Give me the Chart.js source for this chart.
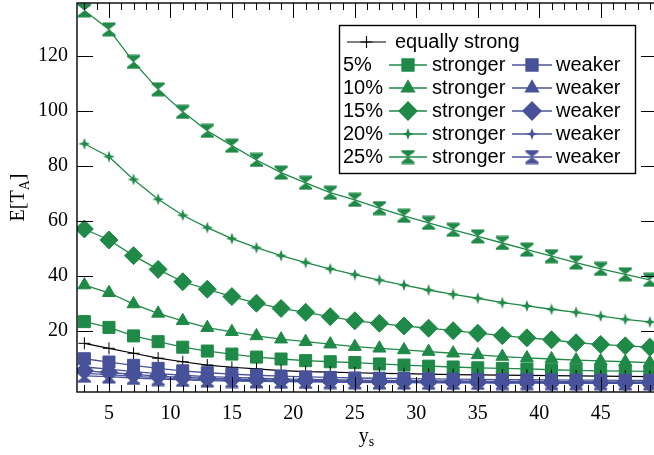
<!DOCTYPE html>
<html>
<head>
<meta charset="utf-8">
<script src="https://cdn.jsdelivr.net/npm/chart.js@4.4.1/dist/chart.umd.min.js"></script>
<style>
    html, body { margin: 0; padding: 0; background: #fff; overflow: hidden; }
    #wrap { width: 660px; height: 455px; }
</style>
</head>
<body>
<div id="wrap"><canvas id="grafico" width="660" height="455"></canvas></div>
<script>
// valores
const ys = [3, 5, 7, 9, 11, 13, 15, 17, 19, 21, 23, 25, 27, 29, 31, 33, 35, 37, 39, 41, 43, 45, 47, 49];

const equalStrong = [15.4, 13.6, 11.8, 10.0, 8.7, 7.5, 6.7, 6.1, 5.5, 5.1, 4.9, 4.7, 4.5, 4.35, 4.2, 4.05, 3.95, 3.85, 3.75, 3.65, 3.55, 3.45, 3.4, 3.3];

const stronger5  = [23.3, 21.2, 18.1, 16.0, 14.0, 12.6, 11.5, 10.4, 9.7, 9.1, 8.7, 8.4, 7.9, 7.5, 7.1, 6.8, 6.5, 6.3, 6.1, 5.8, 5.6, 5.4, 5.3, 5.2];
const stronger10 = [36.6, 33.8, 29.7, 26.3, 23.6, 21.1, 19.6, 18.1, 16.9, 16.0, 15.1, 14.2, 13.6, 13.0, 12.4, 11.8, 11.2, 10.6, 10.1, 9.7, 9.3, 9.0, 8.7, 8.4];
const stronger15 = [57.0, 53.0, 47.3, 42.3, 37.8, 35.1, 32.4, 30.0, 28.1, 26.7, 25.1, 23.6, 22.7, 21.7, 20.9, 20.0, 19.1, 18.2, 17.4, 16.7, 15.6, 15.0, 14.5, 14.0];
const stronger20 = [88.0, 83.3, 75.0, 67.8, 62.0, 57.5, 53.5, 50.2, 47.3, 44.8, 42.5, 40.4, 38.4, 36.6, 34.8, 33.2, 31.8, 30.2, 29.0, 27.8, 26.7, 25.3, 24.1, 23.2];
const stronger25 = [136.5, 129.6, 117.8, 107.8, 99.6, 92.7, 87.3, 82.1, 77.5, 73.8, 70.2, 67.6, 64.6, 61.8, 59.2, 56.7, 54.3, 51.9, 49.5, 47.1, 44.8, 42.5, 40.5, 38.5];

const weaker5  = [9.8, 8.6, 7.4, 6.3, 5.4, 4.7, 4.2, 3.8, 3.5, 3.2, 3.0, 2.8, 2.7, 2.6, 2.5, 2.4, 2.3, 2.2, 2.15, 2.1, 2.05, 2.0, 1.95, 1.9];
const weaker10 = [6.8, 6.0, 5.1, 4.4, 3.8, 3.3, 3.0, 2.7, 2.5, 2.3, 2.15, 2.0, 1.9, 1.8, 1.75, 1.7, 1.65, 1.6, 1.55, 1.5, 1.45, 1.4, 1.38, 1.35];
const weaker15 = [5.4, 4.8, 4.1, 3.5, 3.0, 2.7, 2.4, 2.2, 2.0, 1.9, 1.75, 1.65, 1.55, 1.5, 1.45, 1.4, 1.35, 1.3, 1.25, 1.22, 1.2, 1.17, 1.14, 1.1];
const weaker20 = [4.5, 4.0, 3.4, 2.9, 2.5, 2.2, 2.0, 1.85, 1.7, 1.6, 1.5, 1.4, 1.33, 1.28, 1.23, 1.19, 1.15, 1.11, 1.08, 1.05, 1.03, 1.01, 0.99, 0.97];
const weaker25 = [3.6, 3.3, 2.8, 2.4, 2.1, 1.85, 1.7, 1.55, 1.45, 1.35, 1.27, 1.2, 1.14, 1.1, 1.06, 1.02, 0.99, 0.96, 0.93, 0.91, 0.89, 0.87, 0.85, 0.83];

const porcentajes = ['5%', '10%', '15%', '20%', '25%'];
const xTicks = [5, 10, 15, 20, 25, 30, 35, 40, 45];
const yTicks = [20, 40, 60, 80, 100, 120];

const verde = '#1f8a47';
const azul = '#47529a';

// marcadores que Chart.js no trae
function marcaReloj(color) {
    const c = document.createElement('canvas');
    c.width = 15; c.height = 15;
    const g = c.getContext('2d');
    g.fillStyle = color;
    g.beginPath();
    g.moveTo(1, 0.5); g.lineTo(14, 0.5); g.lineTo(14, 2.5); g.lineTo(7.5, 7.5);
    g.lineTo(14, 12.5); g.lineTo(14, 14.5); g.lineTo(1, 14.5); g.lineTo(1, 12.5);
    g.lineTo(7.5, 7.5); g.lineTo(1, 2.5);
    g.closePath();
    g.fill();
    return c;
}

function marcaEstrella(color) {
    const c = document.createElement('canvas');
    c.width = 12; c.height = 12;
    const g = c.getContext('2d');
    g.fillStyle = color;
    g.beginPath();
    g.moveTo(6, 0); g.lineTo(7.6, 4.4); g.lineTo(12, 6); g.lineTo(7.6, 7.6);
    g.lineTo(6, 12); g.lineTo(4.4, 7.6); g.lineTo(0, 6); g.lineTo(4.4, 4.4);
    g.closePath();
    g.fill();
    return c;
}

function estilos(color) {
    return [
        { pointStyle: 'rect', radius: 8.5 },
        { pointStyle: 'triangle', radius: 7.5 },
        { pointStyle: 'rectRot', radius: 9 },
        { pointStyle: marcaEstrella(color), radius: 6 },
        { pointStyle: marcaReloj(color), radius: 7.5 }
    ];
}

const estilosVerde = estilos(verde);
const estilosAzul = estilos(azul);

function serie(label, vals, color, est) {
    return {
        label: label,
        data: ys.map((x, i) => ({ x: x, y: vals[i] })),
        borderColor: color,
        backgroundColor: color,
        borderWidth: 1.3,
        pointStyle: est.pointStyle,
        pointRadius: est.radius,
        pointHoverRadius: est.radius,
        pointBorderWidth: 1,
        pointBackgroundColor: color,
        pointBorderColor: color,
        tension: 0
    };
}

const fuertes = [stronger5, stronger10, stronger15, stronger20, stronger25];
const debiles = [weaker5, weaker10, weaker15, weaker20, weaker25];

const datasets = [];
debiles.forEach((v, i) => datasets.push(serie(porcentajes[i] + ' weaker', v, azul, estilosAzul[i])));
datasets.push({
    label: 'equally strong',
    data: ys.map((x, i) => ({ x: x, y: equalStrong[i] })),
    borderColor: '#000',
    backgroundColor: '#000',
    borderWidth: 1.2,
    pointStyle: 'cross',
    pointRadius: 6,
    pointBorderWidth: 1,
    pointBorderColor: '#000',
    tension: 0
});
fuertes.forEach((v, i) => datasets.push(serie(porcentajes[i] + ' stronger', v, verde, estilosVerde[i])));

const fuenteSans = '20px "Liberation Sans", Arial, sans-serif';
const fuenteSerif = '"Liberation Serif", "Times New Roman", serif';

// marco, ticks hacia adentro, titulos y leyenda
const marcoPlugin = {
    id: 'marco',
    afterDraw(chart) {
        const ctx = chart.ctx;
        const a = chart.chartArea;
        const sx = chart.scales.x;
        const sy = chart.scales.y;
        ctx.save();
        ctx.strokeStyle = '#000';
        ctx.lineWidth = 1.4;
        ctx.strokeRect(a.left, a.top, a.right - a.left, a.bottom - a.top);

        ctx.lineWidth = 1;
        ctx.beginPath();
        for (let v = Math.ceil(sx.min); v <= sx.max; v++) {
            const px = Math.round(sx.getPixelForValue(v)) + 0.5;
            const len = v % 5 === 0 ? 15 : 7;
            ctx.moveTo(px, a.bottom); ctx.lineTo(px, a.bottom - len);
            ctx.moveTo(px, a.top); ctx.lineTo(px, a.top + len);
        }
        yTicks.forEach(v => {
            const py = Math.round(sy.getPixelForValue(v)) + 0.5;
            ctx.moveTo(a.left, py); ctx.lineTo(a.left + 16, py);
            ctx.moveTo(a.right, py); ctx.lineTo(a.right - 15, py);
        });
        ctx.stroke();

        // titulos de ejes con subindice
        ctx.fillStyle = '#000';
        ctx.textBaseline = 'alphabetic';
        ctx.font = '20px ' + fuenteSerif;
        const fSub = '14px ' + fuenteSerif;
        // eje x: y_s
        const cx = (a.left + a.right) / 2;
        ctx.textAlign = 'left';
        const wy = ctx.measureText('y').width;
        ctx.font = fSub;
        const ws = ctx.measureText('s').width;
        let x0 = cx - (wy + ws) / 2;
        ctx.font = '20px ' + fuenteSerif;
        ctx.fillText('y', x0, 442);
        ctx.font = fSub;
        ctx.fillText('s', x0 + wy, 446);
        // eje y: E[T_A]
        ctx.save();
        ctx.translate(23.5, (a.top + a.bottom) / 2);
        ctx.rotate(-Math.PI / 2);
        ctx.font = '20px ' + fuenteSerif;
        const w1 = ctx.measureText('E[T').width;
        const w3 = ctx.measureText(']').width;
        ctx.font = fSub;
        const w2 = ctx.measureText('A').width;
        let t0 = -(w1 + w2 + w3) / 2;
        ctx.font = '20px ' + fuenteSerif;
        ctx.fillText('E[T', t0, 0);
        ctx.font = fSub;
        ctx.fillText('A', t0 + w1, 5);
        ctx.font = '20px ' + fuenteSerif;
        ctx.fillText(']', t0 + w1 + w2, 0);
        ctx.restore();

        // leyenda
        const lx = 339.5, ly = 25.5, lw = 296, lh = 148;
        ctx.fillStyle = '#fff';
        ctx.fillRect(lx, ly, lw, lh);
        ctx.strokeStyle = '#000';
        ctx.lineWidth = 1.4;
        ctx.strokeRect(lx, ly, lw, lh);
        ctx.font = fuenteSans;
        ctx.textBaseline = 'middle';
        ctx.textAlign = 'left';
        const fila = r => 42 + r * 23;

        const dibujarMuestra = (x1, x2, y, color, est, lw2) => {
            ctx.strokeStyle = color;
            ctx.fillStyle = color;
            ctx.lineWidth = lw2;
            ctx.beginPath();
            ctx.moveTo(x1, y); ctx.lineTo(x2, y);
            ctx.stroke();
            Chart.helpers.drawPoint(ctx, { pointStyle: est.pointStyle, radius: est.radius, borderWidth: 1, rotation: 0 }, (x1 + x2) / 2, y);
        };

        dibujarMuestra(347, 386, fila(0), '#000', { pointStyle: 'cross', radius: 6 }, 1.2);
        ctx.fillStyle = '#000';
        ctx.fillText('equally strong', 395, fila(0));
        porcentajes.forEach((p, i) => {
            const y = fila(i + 1);
            ctx.fillStyle = '#000';
            ctx.fillText(p, 343, y);
            dibujarMuestra(389, 427, y, verde, estilosVerde[i], 1.3);
            ctx.fillStyle = '#000';
            ctx.fillText('stronger', 432, y);
            dibujarMuestra(512, 552, y, azul, estilosAzul[i], 1.3);
            ctx.fillStyle = '#000';
            ctx.fillText('weaker', 556, y);
        });
        ctx.restore();
    }
};

new Chart(document.getElementById('grafico').getContext('2d'), {
    type: 'line',
    data: { datasets: datasets },
    options: {
        responsive: false,
        animation: false,
        events: [],
        layout: { autoPadding: false, padding: { top: 3, right: 4, left: 0, bottom: 0 } },
        plugins: {
            legend: { display: false },
            tooltip: { enabled: false }
        },
        scales: {
            x: {
                type: 'linear',
                min: 2.4,
                max: 49.5,
                grid: { display: false, drawTicks: false },
                border: { display: false },
                afterBuildTicks: s => { s.ticks = xTicks.map(v => ({ value: v })); },
                afterFit: s => { s.height = 63; s.paddingLeft = 0; s.paddingRight = 0; },
                ticks: {
                    color: '#000',
                    padding: 10,
                    maxRotation: 0,
                    font: { family: fuenteSerif, size: 20 }
                }
            },
            y: {
                min: -2.3,
                max: 139.2,
                grid: { display: false, drawTicks: false },
                border: { display: false },
                afterBuildTicks: s => { s.ticks = yTicks.map(v => ({ value: v })); },
                afterFit: s => { s.width = 77; s.paddingTop = 0; s.paddingBottom = 0; },
                ticks: {
                    color: '#000',
                    padding: 9,
                    font: { family: fuenteSerif, size: 20 }
                }
            }
        }
    },
    plugins: [marcoPlugin]
});
</script>
</body>
</html>
